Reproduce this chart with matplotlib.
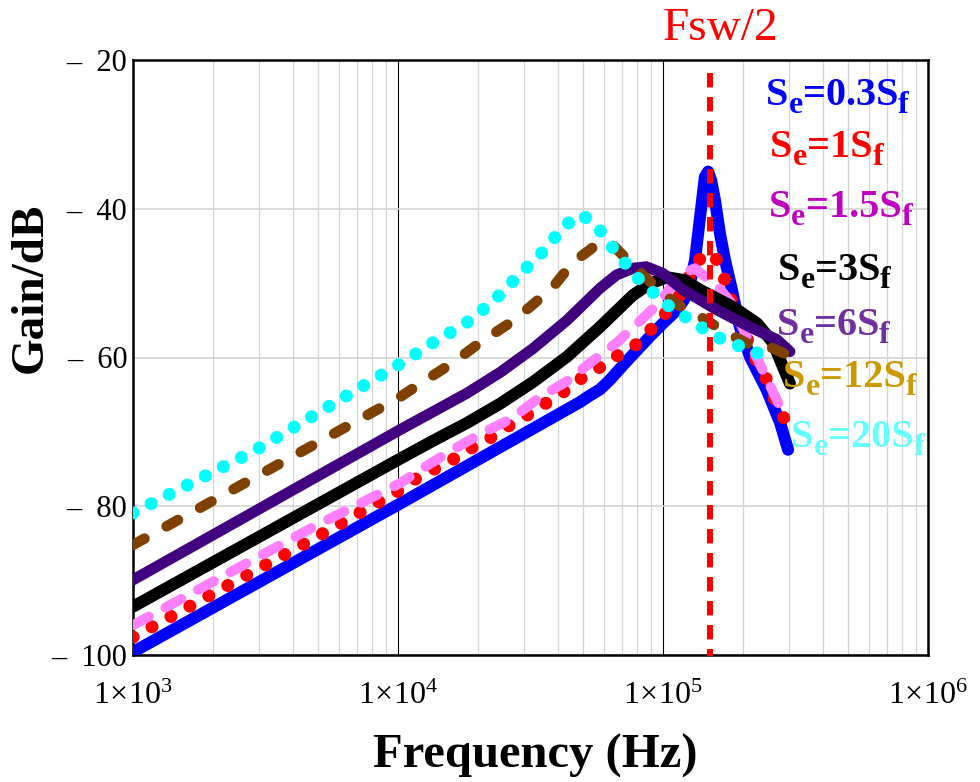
import matplotlib
matplotlib.use('Agg')
import matplotlib.pyplot as plt
from matplotlib.ticker import LogLocator, NullFormatter, FixedLocator

plt.rcParams['font.family'] = ['Liberation Serif', 'DejaVu Serif']
plt.rcParams['mathtext.fontset'] = 'custom'
plt.rcParams['mathtext.rm'] = 'Liberation Serif'
plt.rcParams['mathtext.it'] = 'Liberation Serif:italic'
plt.rcParams['mathtext.bf'] = 'Liberation Serif:bold'

# ---------------- data (frequency in Hz, gain in dB) ----------------
f_03 = [1000, 10000, 48600, 52500, 57800, 63100, 70800, 79400, 89100, 100000, 113000,
        120200, 126500, 132100, 138000, 143900, 148000, 152000, 157000, 164000, 171400,
        182000, 195000, 212800, 246600, 276700, 296500]
g_03 = [-99.6, -79.8, -66.0, -65.2, -64.3, -63.0, -61.0, -59.1, -57.2, -55.4, -53.6,
        -52.2, -50.0, -46.9, -41.1, -35.7, -35.0, -36.2, -38.8, -43.3, -46.9,
        -50.9, -55.9, -59.9, -64.4, -68.8, -72.4]

f_1 = [1000, 4730, 10190, 11800, 13550, 15700, 17900, 20700, 23800, 27200, 30900,
       35200, 40800, 45700, 52100, 60300, 67600, 75000, 84100, 93300, 112000, 126000,
       135500, 154500, 167100, 174600, 199500, 226500, 246600, 276700, 291700]
g_1 = [-97.6, -84.5, -77.8, -76.2, -75.1, -74.0, -72.6, -71.5, -70.2, -68.8, -67.7,
       -66.4, -65.0, -63.7, -62.1, -61.0, -59.7, -59.0, -57.4, -55.6, -52.5, -49.0,
       -46.9, -46.0, -48.2, -50.9, -56.0, -60.7, -63.0, -67.5, -68.5]

f_15 = [1000, 4730, 10190, 12400, 16100, 20700, 26900, 34400, 43400, 55000, 67000,
        84100, 97700, 114800, 131800, 164100, 182000, 199500, 239900, 275400, 295100]
g_15 = [-96.0, -82.9, -76.9, -74.9, -72.4, -70.2, -68.2, -65.3, -63.2, -60.3, -58.0,
        -54.7, -52.5, -49.0, -48.0, -50.8, -52.8, -56.0, -62.0, -66.5, -67.5]

f_3 = [1000, 10190, 13550, 18200, 24300, 32300, 43400, 57800, 77100, 89100,
       103500, 120200, 138000, 183700, 226500, 260000, 283800, 301300]
g_3 = [-93.5, -73.6, -71.2, -68.8, -66.2, -63.3, -59.9, -55.9, -51.6, -50.1,
       -49.2, -49.6, -50.9, -53.2, -55.4, -58.0, -61.3, -63.5]

f_6 = [1000, 10190, 13550, 18200, 24300, 32300, 43400, 57800, 66800, 77100, 86500,
       100000, 118900, 160000, 212800, 269200, 301300]
g_6 = [-89.9, -69.7, -67.3, -64.8, -62.0, -58.8, -55.0, -50.7, -48.9, -48.0, -47.8,
       -48.7, -50.9, -53.6, -55.9, -57.6, -59.2]

f_12 = [1000, 10190, 12400, 16100, 20400, 25800, 31500, 38500, 45700, 53100, 57800,
        64700, 75000, 89300, 110900, 138000, 174600, 212800, 253500, 301300]
g_12 = [-85.2, -65.3, -63.3, -60.7, -58.0, -55.6, -53.2, -50.5, -47.2, -45.5, -44.4,
        -44.9, -47.2, -49.8, -52.7, -54.5, -56.7, -58.3, -58.6, -59.8]

f_20 = [1000, 2884, 10470, 13550, 17900, 22800, 28100, 35200, 42700, 49400, 56400,
        67600, 82600, 103500, 131800, 174600, 207500, 242700]
g_20 = [-80.9, -72.5, -60.6, -58.0, -55.5, -52.5, -49.2, -45.8, -42.2, -40.8, -42.4,
        -46.2, -49.8, -52.9, -55.4, -58.0, -58.7, -59.9]

fsw_half = 150e3

se_values = ['0.3', '1', '1.5', '3', '6', '12', '20']
x_ticks = [1e3, 1e4, 1e5, 1e6]
x_ticklabels = [r'$1\!\times\!10^{3}$', r'$1\!\times\!10^{4}$',
                r'$1\!\times\!10^{5}$', r'$1\!\times\!10^{6}$']
y_ticks = [-100, -80, -60, -40, -20]
y_ticklabels = ['\u2013  100', '\u2013  80', '\u2013  60', '\u2013  40', '\u2013  20']

# ---------------- figure ----------------
W, H = 980, 782
fig = plt.figure(figsize=(W / 100, H / 100), dpi=100)
ax = fig.add_axes([133 / W, 1 - 655 / H, (928 - 133) / W, (655 - 60) / H])
ax.set_xscale('log')
ax.set_xlim(1e3, 1e6)
ax.set_ylim(-100, -20)

ax.xaxis.set_major_locator(FixedLocator(x_ticks))
ax.xaxis.set_minor_locator(LogLocator(base=10, subs=[2, 3, 4, 5, 6, 7, 8, 9], numticks=20))
ax.xaxis.set_minor_formatter(NullFormatter())
ax.set_xticklabels(x_ticklabels)
ax.set_yticks(y_ticks)
ax.set_yticklabels(y_ticklabels)
ax.grid(True, which='minor', axis='x', color='#d4d4d4', lw=0.9)
ax.grid(True, which='major', axis='x', color='black', lw=0.8)
ax.grid(True, which='major', axis='y', color='#d4d4d4', lw=1.2)
ax.set_axisbelow(True)
ax.tick_params(which='both', length=0)
ax.tick_params(axis='x', pad=19, labelsize=23)
ax.tick_params(axis='y', pad=4, labelsize=22)
for s in ax.spines.values():
    s.set_linewidth(1.8)

px = 0.72  # points per pixel at 100 dpi
ax.plot(f_03, g_03, color='#0000ff', lw=12 * px, solid_capstyle='round',
        solid_joinstyle='round', zorder=3)
ax.plot(f_1, g_1, color='#ff0000', lw=13 * px, linestyle=(0, (0.01, 1.65)),
        dash_capstyle='round', zorder=4)
ax.plot(f_15, g_15, color='#ff80ff', lw=10 * px, linestyle=(0, (1.8, 1.9)),
        dash_capstyle='round', zorder=5)
ax.plot(f_3, g_3, color='black', lw=12 * px, solid_capstyle='round',
        solid_joinstyle='round', zorder=6)
ax.plot(f_6, g_6, color='#400080', lw=11 * px, solid_capstyle='round',
        solid_joinstyle='round', zorder=7)
ax.plot(f_12, g_12, color='#804000', lw=10.5 * px, linestyle=(0, (1.25, 2.4)),
        dash_capstyle='round', zorder=8)
ax.plot(f_20, g_20, color='#00ffff', lw=13 * px, linestyle=(0, (0.01, 1.55)),
        dash_capstyle='round', zorder=9)

ax.plot([fsw_half, fsw_half], [-21.75, -100.2], color='#ff0000', lw=6 * px,
        linestyle=(0, (2.4, 1.6)), dash_capstyle='butt', zorder=10, clip_on=False)

# texts
fig.text(721 / W, 1 - 40 / H, 'Fsw/2', color='#ff0000', fontsize=34,
         ha='center', va='baseline')
fig.text(535 / W, 1 - 768 / H, 'Frequency (Hz)', fontsize=35, fontweight='bold',
         ha='center', va='baseline')
fig.text(31 / W, 1 - 288 / H, 'Gain/dB', fontsize=34, fontweight='bold',
         rotation=90, ha='center', va='center')

# curve labels built from main text + enlarged subscripts
text_colors = ['#0000ff', '#ff0000', '#c000c0', '#000000', '#7030a0', '#cc9900', '#66ffff']
text_pos = [(766, 105), (770, 157), (769, 217), (778, 280), (777, 335), (783, 387), (791, 447)]
main_fs = 29
sub_fs = 23
sub_drop = 8
renderer = fig.canvas.get_renderer()
for v, c, (x0, y0) in zip(se_values, text_colors, text_pos):
    parts = [('S', False), ('e', True), ('=' + v + 'S', False), ('f', True)]
    x = x0
    for txt, sub in parts:
        yy = y0 + (sub_drop if sub else 0)
        t = fig.text(x / W, 1 - yy / H, txt, color=c, fontsize=sub_fs if sub else main_fs,
                     fontweight='bold', ha='left', va='baseline', zorder=20)
        x += t.get_window_extent(renderer).width

fig.savefig('out.png', dpi=100)
